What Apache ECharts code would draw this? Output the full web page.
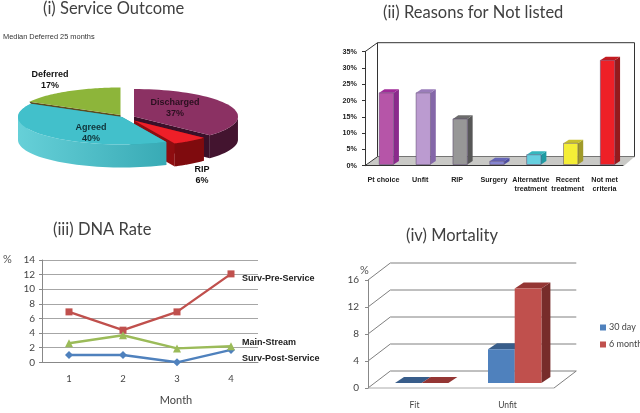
<!DOCTYPE html>
<html><head><meta charset="utf-8">
<style>html,body{margin:0;padding:0;background:#fff}#c{width:640px;height:413px}</style>
<script src="https://cdn.jsdelivr.net/npm/echarts@6/dist/echarts.min.js"></script>
</head><body><div id="c"></div>
<script>
const outcomeNames = ['Discharged','RIP','Agreed','Deferred'];
const outcomeValues = [37,6,40,17];
const reasonCategories = ['Pt choice','Unfit','RIP','Surgery','Alternative\ntreatment','Recent\ntreatment','Not met\ncriteria'];
const reasonValues = [22,22,14,1,3,6.5,32];
const months = ['1','2','3','4'];
const survPost = [1,1,0,1.7];
const survPre = [6.9,4.4,6.9,12.1];
const mainStream = [2.6,3.7,1.9,2.2];
const mortalityCategories = ['Fit','Unfit'];
const mortality30 = [0,5];
const mortality6 = [0,14];

const poly = (points, fill) => ({type:'polygon', shape:{points}, style:{fill, stroke:null}});
const grad = (a,b) => new echarts.graphic.LinearGradient(1,0,0,0,[{offset:0,color:a},{offset:1,color:b}]);

/* ---------- pie ---------- */
const pieRx = 104, pieRy = 27.5, pieDepth = 23;
const pieStyle = [
 {cx:134,cy:116.5,top:'#8b3163',side:'#43142f',cut:'#3a1029',lx:175,ly:108,tc:'#2b1020'},
 {cx:134,cy:120.5,top:'#ee1f28',side:'#7f0b0e',cut:'#8e0d10',lx:202,ly:175,tc:'#111',rx:.92},
 {cx:122,cy:117,top:'#42c0cb',side:'#45b9c4',cut:'#2c99a3',lx:91,ly:133,tc:'#10333a'},
 {cx:120.5,cy:115,top:'#8db53a',side:'#5d4c1f',cut:'#5d4c1f',lx:50,ly:80,tc:'#111'}
];
const sumOutcome = outcomeValues.reduce((a,b)=>a+b,0);
function piePoints(s,a0,a1,rx){
  const pts=[];const n=48;
  for(let k=0;k<=n;k++){const a=a0+(a1-a0)*k/n;pts.push([s.cx+Math.sin(a)*rx,s.cy-Math.cos(a)*pieRy*(rx/pieRx)]);}
  return pts;
}
function renderPie(params,api){
  const i=params.dataIndex;const s=pieStyle[i];
  let before=0;for(let k=0;k<i;k++)before+=outcomeValues[k];
  const a0=before/sumOutcome*2*Math.PI,a1=(before+api.value(0))/sumOutcome*2*Math.PI;
  const rx=pieRx*(s.rx||1);
  const arc=piePoints(s,a0,a1,rx);
  const ch=[];
  const down=p=>[p[0],p[1]+pieDepth];
  const apex=[s.cx,s.cy];
  const pEnd=arc[arc.length-1],pStart=arc[0];
  if(i===3){
    ch.push(poly([apex,[apex[0],apex[1]+5],[pStart[0]+3,pStart[1]+4],pStart],s.cut));
  }else{
    ch.push(poly([apex,pEnd,down(pEnd),down(apex)],s.cut));
    ch.push(poly([apex,pStart,down(pStart),down(apex)],s.cut));
    const vis=arc.filter((p,k)=>Math.cos(a0+(a1-a0)*k/48)<=0.02);
    if(i===2){
      const left=arc.filter((p,k)=>Math.cos(a0+(a1-a0)*k/48)>0);
      if(left.length>1)ch.push(poly(left.concat(left.slice().reverse().map(down)),'#56c7d1'));
    }
    const sideFill=i===2?grad('#38aab5','#66d0d8'):s.side;
    if(vis.length>1)ch.push(poly(vis.concat(vis.slice().reverse().map(down)),sideFill));
  }
  ch.push(poly([apex].concat(arc),s.top));
  ch.push({type:'text',style:{x:s.lx,y:s.ly,text:outcomeNames[i]+'\n'+api.value(0)+'%',fill:s.tc,
    font:'bold 9px "Liberation Sans"',align:'center',verticalAlign:'middle',lineHeight:10.5},z2:50});
  return {type:'group',children:ch};
}
const pieOrder=[3,0,1,2];

/* ---------- 3D bars ---------- */
const bar3 = (api,i,v,o) => {
  const top=api.coord([i,v]),base=api.coord([i,0]);
  const x0=top[0]+o.dx-o.w/2,x1=x0+o.w,y1=base[1]+o.dy,y0=top[1]+o.dy;
  const dX=o.ox,dY=o.oy;
  const children=[
    poly([[x1,y0],[x1+dX,y0-dY],[x1+dX,y1-dY],[x1,y1]],o.side),
    poly([[x0,y0],[x0+dX,y0-dY],[x1+dX,y0-dY],[x1,y0]],o.top)
  ];
  if(y1-y0>.5)children.push({type:'rect',shape:{x:x0,y:y0,width:o.w,height:y1-y0},style:{fill:o.front,stroke:o.stroke||null,lineWidth:.5}});
  return {type:'group',children};
};
const reasonColors=[
 ['#b655a8','#a02a98','#8b2a8c'],['#bb9bd0','#9a7cba','#8467a8'],['#979797','#6c6c6c','#575757'],
 ['#8585d0','#6666b8','#4c4ca0'],['#66cfdf','#35b6bd','#1f9aa2'],['#f5ee36','#c8c02c','#a09a2a'],['#ee2027','#c41b20','#961a1c']];

function renderReasonWall(params,api){
  const w=api.size([1,0])[0];
  const p0=api.coord([0,0]),p35=api.coord([0,35]);
  const l=p0[0]-w/2,r=l+w*7,bot=p0[1],top=p35[1],dx=12.5,dy=9;
  return {type:'group',children:[
    {type:'polygon',shape:{points:[[l+dx,top-dy],[r+dx-1,top-dy],[r+dx-1,bot-dy],[l+dx,bot-dy]]},style:{fill:'#fff',stroke:'#333',lineWidth:1}},
    poly([[l+1,bot],[l+dx,bot-dy],[r+dx-1,bot-dy],[r+1,bot]],'#c9c9c6'),
    {type:'polyline',shape:{points:[[l,top],[l+dx,top-dy]]},style:{stroke:'#333',fill:null,lineWidth:1}},
    {type:'polyline',shape:{points:[[l,bot],[l+dx,bot-dy]]},style:{stroke:'#333',fill:null,lineWidth:1}}
  ]};
}
function renderReason(params,api){
  const c=reasonColors[params.dataIndex];
  return bar3(api,api.value(0),api.value(1),{dx:3,dy:-1.2,w:14.4,ox:5.3,oy:3.6,front:c[0],top:c[1],side:c[2],stroke:'#55406a'});
}
function renderMortalityWall(params,api){
  const w=api.size([1,0])[0];
  const p0=api.coord([0,0]);const l=p0[0]-w/2,r=l+w*2,dx=22.3,dy=17;
  const ch=[];const line=(pts,c)=>ch.push({type:'polyline',shape:{points:pts},style:{stroke:c||'#808080',fill:null,lineWidth:1}});
  [0,4,8,12,16].forEach(v=>{const y=api.coord([0,v])[1];
    line([[l,y],[l+dx,y-dy],[r+dx,y-dy]]);});
  const b=p0[1];line([[r,b],[r+dx,b-dy]]);line([[l,b],[r,b]],'#aaa');
  return {type:'group',children:ch};
}
const mortalityBar=(front,top,side,off)=>function(params,api){
  return bar3(api,api.value(0),api.value(1),{dx:7.2+off*26.7,dy:-5,w:26.7,ox:9,oy:6,front,top,side});
};

const titleFont={fontFamily:'Lato',fontWeight:'normal',color:'#404040'};
const mkTitle=(text,left,top)=>({text,left,top,padding:0,textStyle:Object.assign({fontSize:16.5},titleFont)});
const boldLabel={fontFamily:'Liberation Sans',fontWeight:'bold',fontSize:7.2,color:'#222'};
const softLabel={fontFamily:'Lato',fontSize:10,color:'#444'};
const endLbl=(x,y)=>({show:true,formatter:'{a}',offset:[x,y],fontFamily:'Liberation Sans',fontWeight:'bold',fontSize:9,color:'#222',align:'left'});

const option={
 animation:false,backgroundColor:'#fff',
 title:[
  mkTitle('(i) Service Outcome',43,0),
  mkTitle('(ii) Reasons for Not listed',383,4),
  mkTitle('(iii) DNA Rate',53,221),
  mkTitle('(iv) Mortality',406,227),
  {text:'Median Deferred 25 months',left:3,top:33,padding:0,textStyle:{fontFamily:'Liberation Sans',fontSize:7.4,fontWeight:'normal',color:'#333'}}
 ],
 legend:{data:['30 day','6 month'],orient:'vertical',left:600,top:323,padding:0,itemWidth:6,itemHeight:6,itemGap:8,
   textStyle:{fontFamily:'Lato',fontSize:9,color:'#444',padding:[0,0,0,-2]},icon:'rect'},
 grid:[
  {left:365,top:51.7,width:258,height:114},
  {left:42,top:260,width:216,height:102.3},
  {left:368,top:280,width:186,height:108}
 ],
 xAxis:[
  {gridIndex:0,type:'category',data:reasonCategories,axisLine:{lineStyle:{color:'#333'}},axisTick:{length:3,lineStyle:{color:'#333'}},
   axisLabel:Object.assign({interval:0,margin:10,lineHeight:9},boldLabel),z:5},
  {gridIndex:1,type:'category',data:months,axisLine:{lineStyle:{color:'#888'}},axisTick:{length:3,lineStyle:{color:'#888'}},
   axisLabel:Object.assign({margin:12},softLabel,{fontSize:9.5}),name:'Month',nameLocation:'middle',nameGap:33,
   nameTextStyle:Object.assign({},softLabel,{fontSize:11,padding:[0,0,0,52]})},
  {gridIndex:2,type:'category',data:mortalityCategories,axisLine:{show:false},axisTick:{length:3,lineStyle:{color:'#888'}},
   axisLabel:Object.assign({margin:13},softLabel,{fontSize:8.5}),z:5}
 ],
 yAxis:[
  {gridIndex:0,type:'value',min:0,max:35,interval:5,splitLine:{show:false},axisLine:{show:true,lineStyle:{color:'#333'}},axisTick:{show:true,length:3,lineStyle:{color:'#333'}},
   axisLabel:Object.assign({formatter:'{value}%',margin:8},boldLabel),z:5},
  {gridIndex:1,type:'value',min:0,max:14,interval:2,splitLine:{lineStyle:{color:'#a6a6a6',width:1.2}},axisLine:{show:true,lineStyle:{color:'#888'}},axisTick:{show:true,length:3,lineStyle:{color:'#888'}},
   axisLabel:Object.assign({margin:7},softLabel)},
  {gridIndex:2,type:'value',min:0,max:16,interval:4,splitLine:{show:false},axisLine:{show:true,lineStyle:{color:'#888'}},axisTick:{show:true,length:3,lineStyle:{color:'#888'}},
   axisLabel:Object.assign({margin:9},softLabel,{fontSize:10}),z:5}
 ],
 graphic:[
  {type:'text',left:3,top:254,style:{text:'%',fill:'#555',font:'11px Lato'}},
  {type:'text',left:360,top:265,style:{text:'%',fill:'#555',font:'11px Lato'}}
 ],
 series:[
  ...pieOrder.map(i=>({type:'custom',name:outcomeNames[i],coordinateSystem:'none',silent:true,
     data:outcomeValues.map(v=>[v]),renderItem:(p,api)=>p.dataIndex===i?renderPie(p,api):null,z:1})),
  {type:'custom',name:'reasonWall',xAxisIndex:0,yAxisIndex:0,silent:true,clip:false,data:[[0,0]],encode:{x:0,y:1},renderItem:renderReasonWall,z:1},
  {type:'custom',name:'Reasons',xAxisIndex:0,yAxisIndex:0,silent:true,clip:false,data:reasonValues.map((v,i)=>[i,v]),encode:{x:0,y:1},renderItem:renderReason,z:2},
  {type:'line',name:'Surv-Post-Service',xAxisIndex:1,yAxisIndex:1,data:survPost,symbol:'diamond',symbolSize:8,
    lineStyle:{width:2.4,color:'#4f81bd'},itemStyle:{color:'#4f81bd'},endLabel:endLbl(3,9)},
  {type:'line',name:'Surv-Pre-Service',xAxisIndex:1,yAxisIndex:1,data:survPre,symbol:'rect',symbolSize:7,
    lineStyle:{width:2.4,color:'#c0504d'},itemStyle:{color:'#c0504d'},endLabel:endLbl(3,5)},
  {type:'line',name:'Main-Stream',xAxisIndex:1,yAxisIndex:1,data:mainStream,symbol:'triangle',symbolSize:8,
    lineStyle:{width:2.4,color:'#9bbb59'},itemStyle:{color:'#9bbb59'},endLabel:endLbl(3,-4)},
  {type:'custom',name:'mortalityWall',xAxisIndex:2,yAxisIndex:2,silent:true,clip:false,data:[[0,0]],encode:{x:0,y:1},renderItem:renderMortalityWall,z:1},
  {type:'custom',name:'30 day',xAxisIndex:2,yAxisIndex:2,silent:true,clip:false,data:mortality30.map((v,i)=>[i,v]),encode:{x:0,y:1},itemStyle:{color:'#4f81bd'},
    renderItem:mortalityBar('#4f81bd','#385d8a','#2f4f78',-.5),z:2},
  {type:'custom',name:'6 month',xAxisIndex:2,yAxisIndex:2,silent:true,clip:false,data:mortality6.map((v,i)=>[i,v]),encode:{x:0,y:1},itemStyle:{color:'#c0504d'},
    renderItem:mortalityBar('#c0504d','#943634','#772c2a',.5),z:3}
 ]
};
const chart=echarts.init(document.getElementById('c'),null,{renderer:'canvas'});
chart.setOption(option);
</script></body></html>
